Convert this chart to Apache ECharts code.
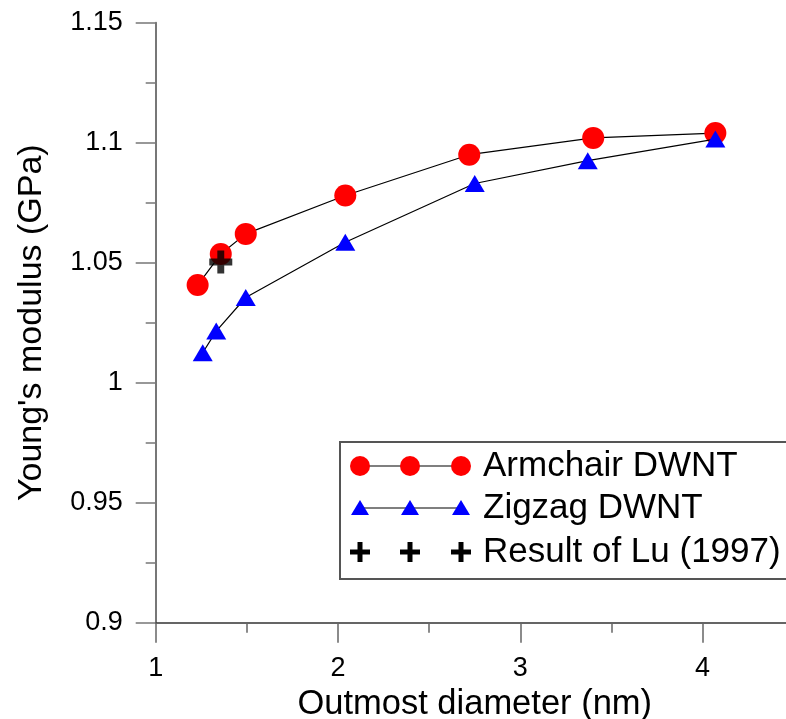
<!DOCTYPE html>
<html>
<head>
<meta charset="utf-8">
<script src="https://cdn.jsdelivr.net/npm/echarts@6/dist/echarts.min.js"></script>
<style>html,body{margin:0;padding:0;background:#fff}#c{width:786px;height:719px}</style>
</head>
<body>
<div id="c"></div>
<script>
const armchairX = [1.23, 1.357, 1.494, 2.04, 2.72, 3.40, 4.07];
const armchairY = [1.0407, 1.0536, 1.062, 1.078, 1.095, 1.102, 1.104];
const zigzagX = [1.258, 1.332, 1.494, 2.04, 2.75, 3.37, 4.07];
const zigzagY = [1.0125, 1.0215, 1.0355, 1.0585, 1.083, 1.0925, 1.1015];
const luX = [1.357];
const luY = [1.0503];
const seriesNames = ['Armchair DWNT', 'Zigzag DWNT', 'Result of Lu (1997)'];
const xTitle = 'Outmost diameter (nm)';
const yTitle = "Young's modulus (GPa)";

const zip = (xs, ys) => xs.map((x, i) => [x, ys[i]]);
const PLUS = 'path://M35,0H65V35H100V65H65V100H35V65H0V35H35Z';
const FONT = 'Liberation Sans, Arial, sans-serif';

const chart = echarts.init(document.getElementById('c'), null, {renderer: 'canvas'});

// legend drawn with graphic elements
const lgLeft = 340, lgTop = 442, rowY = [466, 508, 552], mk = [360, 410, 461], txtX = 483;
const g = [{type: 'rect', shape: {x: lgLeft, y: lgTop, width: 460, height: 137},
  style: {fill: '#fff', stroke: '#555', lineWidth: 2}, z: 10}];
for (let r = 0; r < 2; r++) {
  g.push({type: 'line', shape: {x1: mk[0], y1: rowY[r], x2: mk[2], y2: rowY[r]},
    style: {stroke: '#000', lineWidth: 1.2}, z: 11});
}
mk.forEach(x => {
  g.push({type: 'circle', shape: {cx: x, cy: rowY[0], r: 10}, style: {fill: '#ff0000'}, z: 12});
  g.push({type: 'polygon', shape: {points: [[x - 9, rowY[1] + 7], [x + 9, rowY[1] + 7], [x, rowY[1] - 8]]},
    style: {fill: '#0000ff'}, z: 12});
  g.push({type: 'rect', shape: {x: x - 10, y: rowY[2] - 2.5, width: 20, height: 5}, style: {fill: '#000'}, z: 12});
  g.push({type: 'rect', shape: {x: x - 2.5, y: rowY[2] - 10, width: 5, height: 20}, style: {fill: '#000'}, z: 12});
});
seriesNames.forEach((n, i) => {
  g.push({type: 'text', x: txtX, y: rowY[i], z: 12,
    style: {text: n, fontSize: 35, fontFamily: FONT, fill: '#000', verticalAlign: 'middle', align: 'left'}});
});

const gridL = 155.7, unit = 182.3;
const gridRight = 786 - (gridL + 3.5 * unit);

chart.setOption({
  animation: false,
  backgroundColor: '#fff',
  grid: {left: gridL, right: gridRight, top: 22.7, bottom: 719 - 622.7, containLabel: false,
    outerBoundsMode: 'none'},
  xAxis: [{
    type: 'value', min: 1, max: 4.5, interval: 0.5,
    name: xTitle, nameLocation: 'middle', nameGap: 60,
    nameTextStyle: {fontSize: 34.5, fontFamily: FONT, color: '#000'},
    axisLine: {show: true, onZero: false, lineStyle: {color: '#333', width: 1.5}},
    axisTick: {show: true, inside: false, length: 10, lineStyle: {color: '#666', width: 1.5}},
    axisLabel: {margin: 32, fontSize: 27, fontFamily: FONT, color: '#000',
      formatter: v => (Math.abs(v - Math.round(v)) < 1e-9 ? String(Math.round(v)) : '')},
    splitLine: {show: false}
  }, {
    type: 'value', min: 1, max: 4.5, interval: 1, position: 'bottom',
    axisLine: {show: false},
    axisTick: {show: true, length: 20, lineStyle: {color: '#666', width: 1.5}},
    axisLabel: {show: false}, splitLine: {show: false}
  }],
  yAxis: {
    type: 'value', min: 0.9, max: 1.15, interval: 0.05,
    name: yTitle, nameLocation: 'middle', nameGap: 107,
    nameTextStyle: {fontSize: 34, fontFamily: FONT, color: '#000'},
    axisLine: {show: true, onZero: false, lineStyle: {color: '#777', width: 2}},
    axisTick: {show: true, length: 20, lineStyle: {color: '#777', width: 1.5}},
    minorTick: {show: true, splitNumber: 2, length: 10, lineStyle: {color: '#777', width: 1.5}},
    axisLabel: {margin: 33, fontSize: 27, fontFamily: FONT, color: '#000',
      formatter: v => String(parseFloat(v.toFixed(3)))},
    splitLine: {show: false}
  },
  series: [{
    name: seriesNames[0], type: 'line', data: zip(armchairX, armchairY),
    symbol: 'circle', symbolSize: 22, itemStyle: {color: '#ff0000'},
    lineStyle: {color: '#000', width: 1.2}, z: 3
  }, {
    name: seriesNames[1], type: 'line', data: zip(zigzagX, zigzagY),
    symbol: 'triangle', symbolSize: [20, 17], itemStyle: {color: '#0000ff'},
    lineStyle: {color: '#000', width: 1.2}, z: 4
  }, {
    name: seriesNames[2], type: 'scatter', data: zip(luX, luY),
    symbol: PLUS, symbolSize: 23, itemStyle: {color: '#000'}, z: 5
  }],
  graphic: g
});
</script>
</body>
</html>
